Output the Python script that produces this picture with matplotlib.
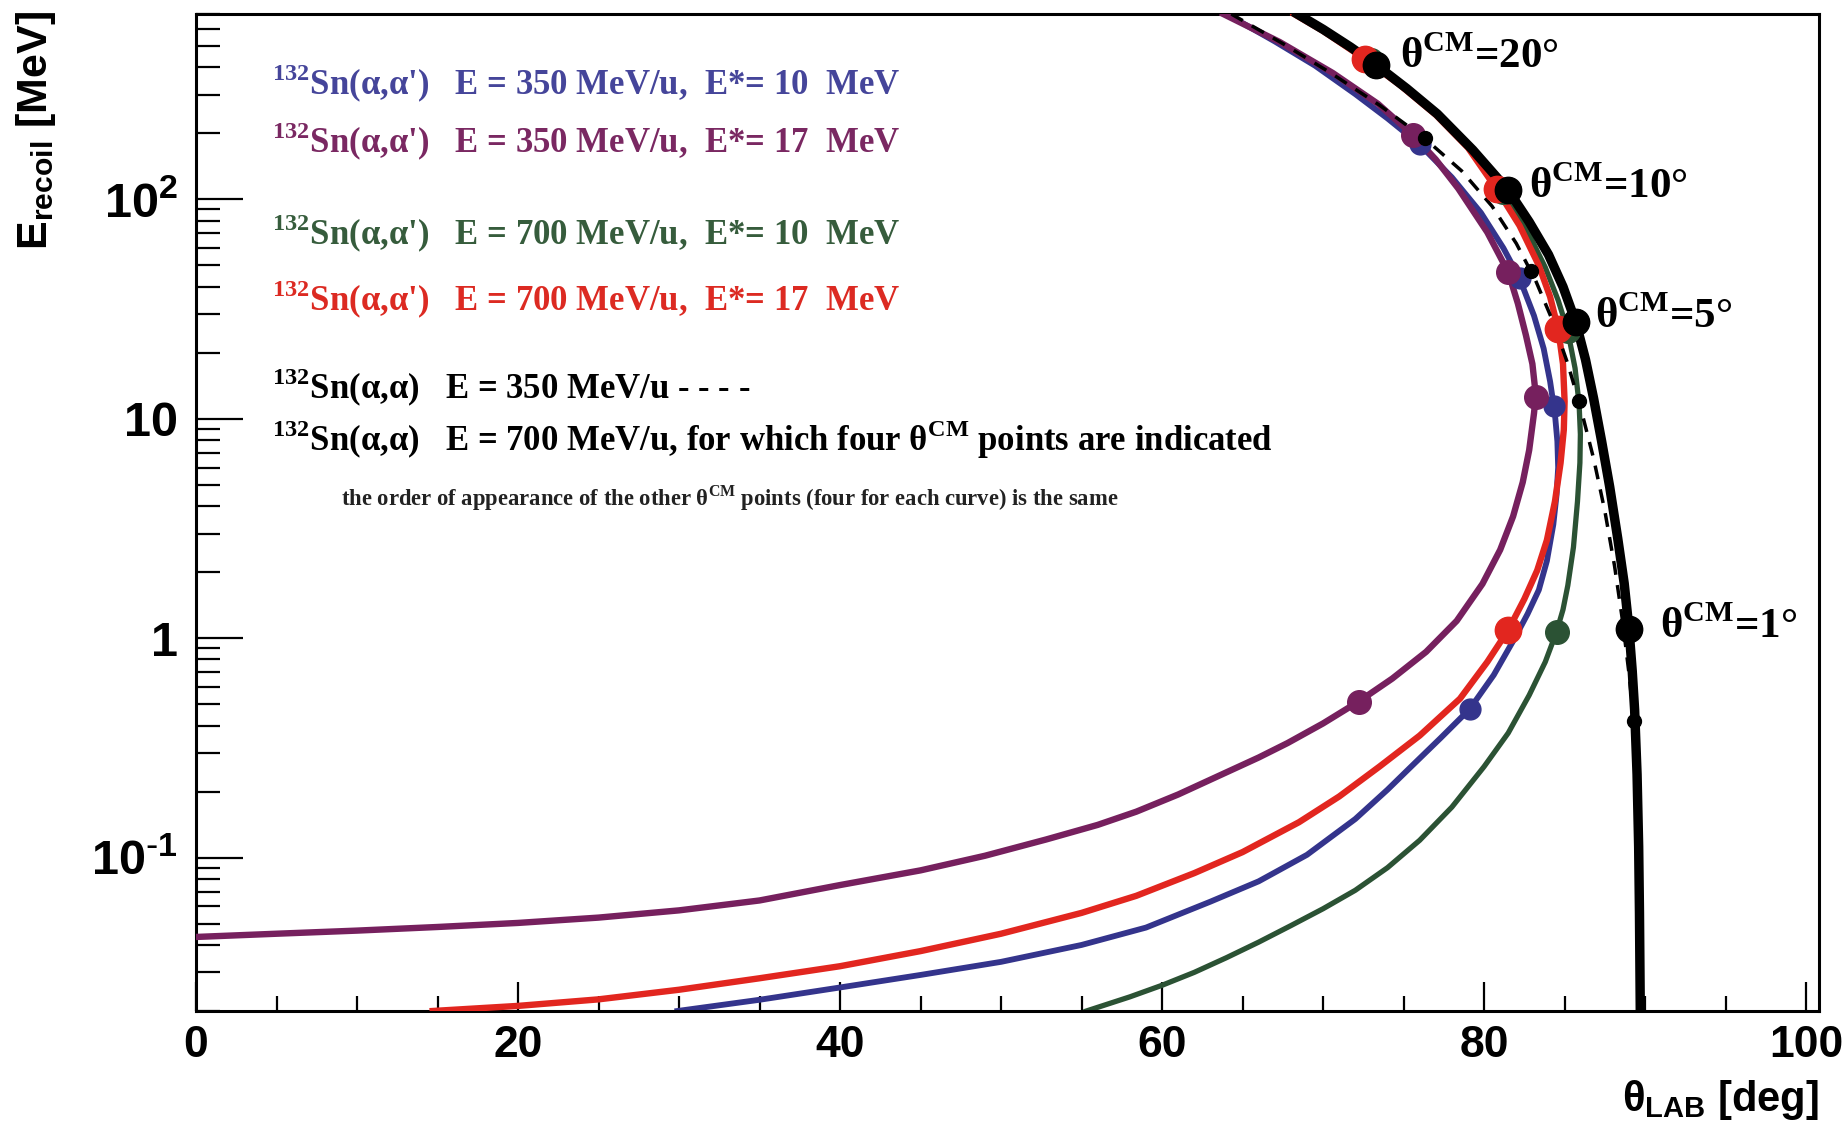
import numpy as np
import matplotlib
matplotlib.use('Agg')
import matplotlib.pyplot as plt
from matplotlib.ticker import FixedLocator, NullFormatter

# ---- curves: theta_LAB [deg] and E_recoil [MeV] ----
# 132Sn(a,a') 350 MeV/u, E* = 17 MeV (purple)
th_350_17 = [0, 5, 10, 15, 20, 25, 30, 35, 40, 45, 49, 52.8, 56, 58.4, 61, 63.9, 66, 67.8, 70, 72.2,
             74.3, 76.4, 78.3, 79.9, 81.0, 81.8, 82.4, 82.8, 83.1, 83.2, 83.15, 83.0, 82.6, 82.1, 81.5,
             80.2, 78.4, 77.0, 75.6, 73.4, 70.6, 67.3, 63.8]
e_350_17 = [0.0435, 0.0450, 0.0465, 0.0483, 0.0504, 0.0533, 0.0575, 0.0638, 0.075, 0.0875, 0.102, 0.121,
            0.141, 0.162, 0.194, 0.243, 0.286, 0.333, 0.409, 0.514, 0.655, 0.867, 1.2, 1.77, 2.53, 3.59,
            5.14, 7.2, 10.6, 12.6, 14.1, 17.8, 24, 33.5, 46.6, 70.8, 112, 152, 196, 273, 377, 522, 700]

# 132Sn(a,a') 350 MeV/u, E* = 10 MeV (blue)
th_350_10 = [29.9, 35, 40, 45, 50, 55, 59, 63, 66, 69, 72, 74, 75.4, 77.3, 79.1, 80.6, 81.9, 82.7, 83.4,
             83.9, 84.3, 84.5, 84.6, 84.55, 84.4, 84.1, 83.7, 83.1, 82.2, 81.2, 79.8, 78.0, 76.0, 74.0,
             72.0, 69.5, 67.0, 64.0]
e_350_10 = [0.0200, 0.0225, 0.0256, 0.0292, 0.0335, 0.0400, 0.0480, 0.063, 0.078, 0.103, 0.150, 0.204,
            0.257, 0.351, 0.475, 0.68, 1.0, 1.29, 1.66, 2.25, 3.3, 4.5, 6.0, 7.9, 10.5, 14.8, 20.9,
            29.5, 43.7, 60, 87, 126, 178, 234, 302, 407, 525, 700]

# 132Sn(a,a') 700 MeV/u, E* = 10 MeV (green)
th_700_10 = [55.3, 58, 60, 62, 64, 66, 68, 70, 72, 74, 76, 78, 80, 81.5, 82.8, 83.8, 84.5, 84.9, 85.2,
             85.55, 85.8, 85.95, 85.98, 85.9, 85.65, 85.2, 84.6, 83.8, 82.6, 81.2, 79.3, 77.3, 75.2,
             73.0, 70.5, 68.4]
e_700_10 = [0.0200, 0.0232, 0.0262, 0.0300, 0.0350, 0.0412, 0.0490, 0.0585, 0.071, 0.090, 0.120, 0.170,
            0.26, 0.37, 0.55, 0.78, 1.07, 1.35, 1.74, 2.6, 4.2, 6.3, 8.5, 11.7, 17.0, 25.1, 34.7, 49,
            74, 108, 164, 234, 324, 430, 569, 700]

# 132Sn(a,a') 700 MeV/u, E* = 17 MeV (red)
th_700_17 = [14.7, 20, 25, 30, 35, 40, 45, 50, 55, 58.4, 62, 65, 68.5, 71, 73.5, 76, 78.5, 80.2, 81.5,
             82.5, 83.3, 83.9, 84.4, 84.75, 84.95, 85.0, 84.9, 84.6, 84.1, 83.4, 82.2, 80.8, 79.0, 77.0,
             74.8, 72.6, 70.0, 68.2]
e_700_17 = [0.0200, 0.0211, 0.0226, 0.0250, 0.0282, 0.0320, 0.0375, 0.0450, 0.056, 0.067, 0.085, 0.106,
            0.145, 0.19, 0.26, 0.36, 0.53, 0.78, 1.09, 1.51, 2.04, 2.8, 4.2, 6.3, 8.9, 12.0, 17.8, 25.7,
            36, 50, 76, 111, 172, 243, 331, 436, 586, 700]

# 132Sn(a,a) elastic, 700 MeV/u (solid black) and 350 MeV/u (dashed black)
th_700_el = [89.7, 89.65, 89.6, 89.5, 89.35, 89.2, 89.0, 88.7, 88.3, 87.8, 87.3, 86.8, 86.3, 85.7, 84.9,
             84.0, 82.8, 81.5, 79.3, 77.1, 75.2, 73.3, 71.7, 70.0, 68.4]
e_700_el = [0.02, 0.056, 0.112, 0.24, 0.47, 0.71, 1.10, 1.78, 2.85, 4.9, 7.9, 12.4, 18.6, 27.5, 40, 56,
            79, 110, 168, 245, 320, 410, 495, 596, 700]
th_350_el = [89.75, 89.7, 89.62, 89.5, 89.3, 89.0, 88.6, 88.1, 87.5, 86.8, 86.0, 85.2, 84.3, 83.2, 82.0,
             80.5, 78.6, 76.3, 73.5, 70.5, 67.5, 64.3]
e_350_el = [0.02, 0.056, 0.126, 0.24, 0.417, 0.69, 1.2, 2.14, 3.8, 6.6, 11.2, 17.8, 27.5, 42.7, 63, 93,
            135, 190, 269, 376, 513, 700]

# theta_CM = 20, 10, 5, 1 deg points on each curve
mk_th_700_el = [73.3, 81.5, 85.7, 89.0]
mk_e_700_el = [410, 110, 27.5, 1.10]
mk_th_350_el = [76.3, 82.9, 85.9, 89.3]
mk_e_350_el = [190, 47, 12, 0.42]
mk_th_700_17 = [72.6, 80.8, 84.6, 81.5]
mk_e_700_17 = [436, 111, 25.7, 1.09]
mk_th_700_10 = [73.0, 81.2, 85.2, 84.5]
mk_e_700_10 = [430, 108, 25.1, 1.07]
mk_th_350_17 = [75.6, 81.5, 83.2, 72.2]
mk_e_350_17 = [196, 46.6, 12.6, 0.514]
mk_th_350_10 = [76.0, 82.2, 84.35, 79.1]
mk_e_350_10 = [178, 43.7, 11.5, 0.475]

cm_labels = ['20', '10', '5', '1']

c_blue = '#34348c'
c_purple = '#76205e'
c_green = '#2b5234'
c_red = '#e2261f'

W, H = 1845, 1126
fig = plt.figure(figsize=(W / 100, H / 100), dpi=100)
ax = fig.add_axes([196 / W, 1 - 1011 / H, 1623 / W, 997 / H])

def fx(px):
    return px / W

def fy(py):
    return 1 - py / H

# curves
ax.plot(th_700_10, e_700_10, color=c_green, lw=3.8, zorder=2)
ax.plot(th_350_10, e_350_10, color=c_blue, lw=4.2, zorder=2)
ax.plot(th_700_17, e_700_17, color=c_red, lw=4.6, zorder=3)
ax.plot(th_350_17, e_350_17, color=c_purple, lw=4.6, zorder=3)
ax.plot(th_700_el, e_700_el, color='black', lw=6.8, zorder=4)
ax.plot(th_350_el, e_350_el, color='black', lw=2.5, ls=(0, (4, 3)), zorder=5)

# theta_CM points
ax.plot(mk_th_700_10, mk_e_700_10, ls='none', marker='o', ms=17, color=c_green, zorder=6)
ax.plot(mk_th_350_10, mk_e_350_10, ls='none', marker='o', ms=15, color=c_blue, zorder=6)
ax.plot(mk_th_700_17, mk_e_700_17, ls='none', marker='o', ms=19, color=c_red, zorder=6)
ax.plot(mk_th_350_17, mk_e_350_17, ls='none', marker='o', ms=17, color=c_purple, zorder=6)
ax.plot(mk_th_350_el, mk_e_350_el, ls='none', marker='o', ms=10, color='black', zorder=7)
ax.plot(mk_th_700_el, mk_e_700_el, ls='none', marker='o', ms=19, color='black', zorder=7)

ax.set_yscale('log')
ax.set_xlim(0, 100.8)
ax.set_ylim(0.02, 700)

for s in ax.spines.values():
    s.set_linewidth(2.2)

ax.xaxis.set_major_locator(FixedLocator([0, 20, 40, 60, 80, 100]))
ax.xaxis.set_minor_locator(FixedLocator([v for v in range(5, 100, 5) if v % 20]))
ax.yaxis.set_major_locator(FixedLocator([0.1, 1, 10, 100]))
yminor = [m * 10.0 ** d for d in range(-2, 3) for m in range(2, 10)]
ax.yaxis.set_minor_locator(FixedLocator([v for v in yminor if v <= 700]))
ax.yaxis.set_minor_formatter(NullFormatter())
ax.set_yticklabels([r'$\mathregular{10^{\text{-}1}}$', '1', '10', r'$\mathregular{10^{2}}$'])

ax.tick_params(axis='both', which='both', direction='in', top=False, right=False, width=1.6)
ax.tick_params(axis='x', which='major', length=21, pad=10)
ax.tick_params(axis='x', which='minor', length=11)
ax.tick_params(axis='y', which='major', length=34, pad=13)
ax.tick_params(axis='y', which='minor', length=17)
for lab in ax.get_xticklabels():
    lab.set_fontfamily('Liberation Sans')
    lab.set_fontweight('bold')
    lab.set_fontsize(32)
for lab in ax.get_yticklabels():
    lab.set_fontfamily('Liberation Sans')
    lab.set_fontweight('bold')
    lab.set_fontsize(35)

# axis titles
fig.text(fx(36), fy(130), r'E$_{\mathregular{recoil}}$ [MeV]', rotation=90, ha='center', va='center',
         fontsize=31, fontweight='bold', family='Liberation Sans')
fig.text(fx(1819), fy(1100), r'$\mathregular{\theta_{LAB}}$ [deg]', ha='right', va='center',
         fontsize=30, fontweight='bold', family='Liberation Sans')

# legend block
serif = dict(family='Liberation Serif', fontweight='bold', ha='left', va='center')
fig.text(fx(272), fy(84), r"$^{\mathregular{132}}$Sn(α,α')   E = 350 MeV/u,  E*= 10  MeV",
         color='#45459a', fontsize=25, **serif)
fig.text(fx(272), fy(142), r"$^{\mathregular{132}}$Sn(α,α')   E = 350 MeV/u,  E*= 17  MeV",
         color='#7a2862', fontsize=25, **serif)
fig.text(fx(272), fy(234), r"$^{\mathregular{132}}$Sn(α,α')   E = 700 MeV/u,  E*= 10  MeV",
         color='#365c3c', fontsize=25, **serif)
fig.text(fx(272), fy(300), r"$^{\mathregular{132}}$Sn(α,α')   E = 700 MeV/u,  E*= 17  MeV",
         color='#dc2a22', fontsize=25, **serif)
fig.text(fx(272), fy(388), r"$^{\mathregular{132}}$Sn(α,α)   E = 350 MeV/u - - - -",
         color='black', fontsize=25, **serif)
fig.text(fx(272), fy(440),
         r"$^{\mathregular{132}}$Sn(α,α)   E = 700 MeV/u, for which four θ$^{\mathregular{CM}}$ points are indicated",
         color='black', fontsize=25, **serif)
fig.text(fx(341), fy(498),
         r"the order of appearance of the other θ$^{\mathregular{CM}}$ points (four for each curve) is the same",
         color='#222222', fontsize=16.3, **serif)

# theta_CM annotations
cm_pos = [(1400, 57), (1529, 187), (1595, 317), (1660, 627)]
for (px, py), lab in zip(cm_pos, cm_labels):
    fig.text(fx(px), fy(py), r'θ$^{\mathregular{CM}}$=' + lab + '°', fontsize=31, color='black', **serif)

fig.savefig('out.png', dpi=100)
